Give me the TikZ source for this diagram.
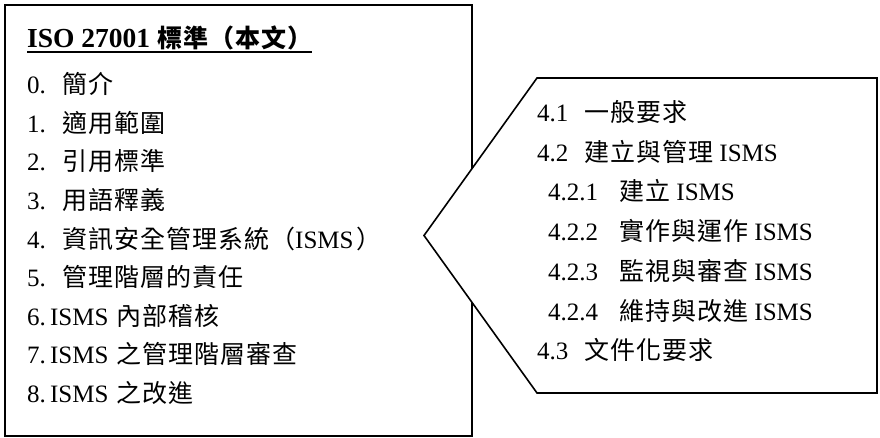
\documentclass[tikz,border=0pt]{standalone}
\usepackage{fontspec}
\setmainfont{Liberation Serif}
\newfontfamily\cjk{Noto Sans CJK TC}[LetterSpace=4]
\begin{document}
\begin{tikzpicture}[x=1pt,y=-1pt,
  txt/.style={anchor=base west,inner sep=0pt,font=\fontsize{25}{30}\selectfont},
  frame/.style={draw=black,line width=1.6pt,line join=miter}]
\useasboundingbox (0,0) rectangle (880,438);
% left box
\node[frame,anchor=north west,minimum width=467pt,minimum height=431pt,inner sep=0pt] (leftbox) at (4,4) {};
\node[txt,font=\fontsize{27.5}{33}\selectfont\bfseries] (title) at (27,48) {ISO 27001 {\fontsize{25}{30}\selectfont\cjk\bfseries 標準（本文）}};
\draw[line width=1.8pt] ([yshift=-4pt]title.base west) -- ([yshift=-4pt]title.base east);
\node[txt] (l0) at (27,94)    {\makebox[35pt][l]{0.}{\cjk 簡介}};
\node[txt] (l1) at (27,132.5) {\makebox[35pt][l]{1.}{\cjk 適用範圍}};
\node[txt] (l2) at (27,171)   {\makebox[35pt][l]{2.}{\cjk 引用標準}};
\node[txt] (l3) at (27,209.5) {\makebox[35pt][l]{3.}{\cjk 用語釋義}};
\node[txt] (l4) at (27,248)   {\makebox[35pt][l]{4.}{\cjk 資訊安全管理系統（}ISMS\hspace{3pt}{\cjk ）}};
\node[txt] (l5) at (27,286.5) {\makebox[35pt][l]{5.}{\cjk 管理階層的責任}};
\node[txt] (l6) at (27,325)   {6.\,ISMS\hspace{8pt}{\cjk 內部稽核}};
\node[txt] (l7) at (27,363.5) {7.\,ISMS\hspace{8pt}{\cjk 之管理階層審查}};
\node[txt] (l8) at (27,402)   {8.\,ISMS\hspace{8pt}{\cjk 之改進}};
% right callout
\draw[frame,fill=white] (537,78) -- (877,78) -- (877,393) -- (537,393) -- (424,235.5) -- cycle;
\node[txt] (r1) at (537,121.5) {\makebox[47pt][l]{4.1}{\cjk 一般要求}};
\node[txt] (r2) at (537,161.2) {\makebox[47pt][l]{4.2}{\cjk 建立與管理} ISMS};
\node[txt] (r3) at (548,200.9) {\makebox[71pt][l]{4.2.1}{\cjk 建立} ISMS};
\node[txt] (r4) at (548,240.6) {\makebox[71pt][l]{4.2.2}{\cjk 實作與運作} ISMS};
\node[txt] (r5) at (548,280.3) {\makebox[71pt][l]{4.2.3}{\cjk 監視與審查} ISMS};
\node[txt] (r6) at (548,320)   {\makebox[71pt][l]{4.2.4}{\cjk 維持與改進} ISMS};
\node[txt] (r7) at (537,359.7) {\makebox[47pt][l]{4.3}{\cjk 文件化要求}};
\end{tikzpicture}
\end{document}
